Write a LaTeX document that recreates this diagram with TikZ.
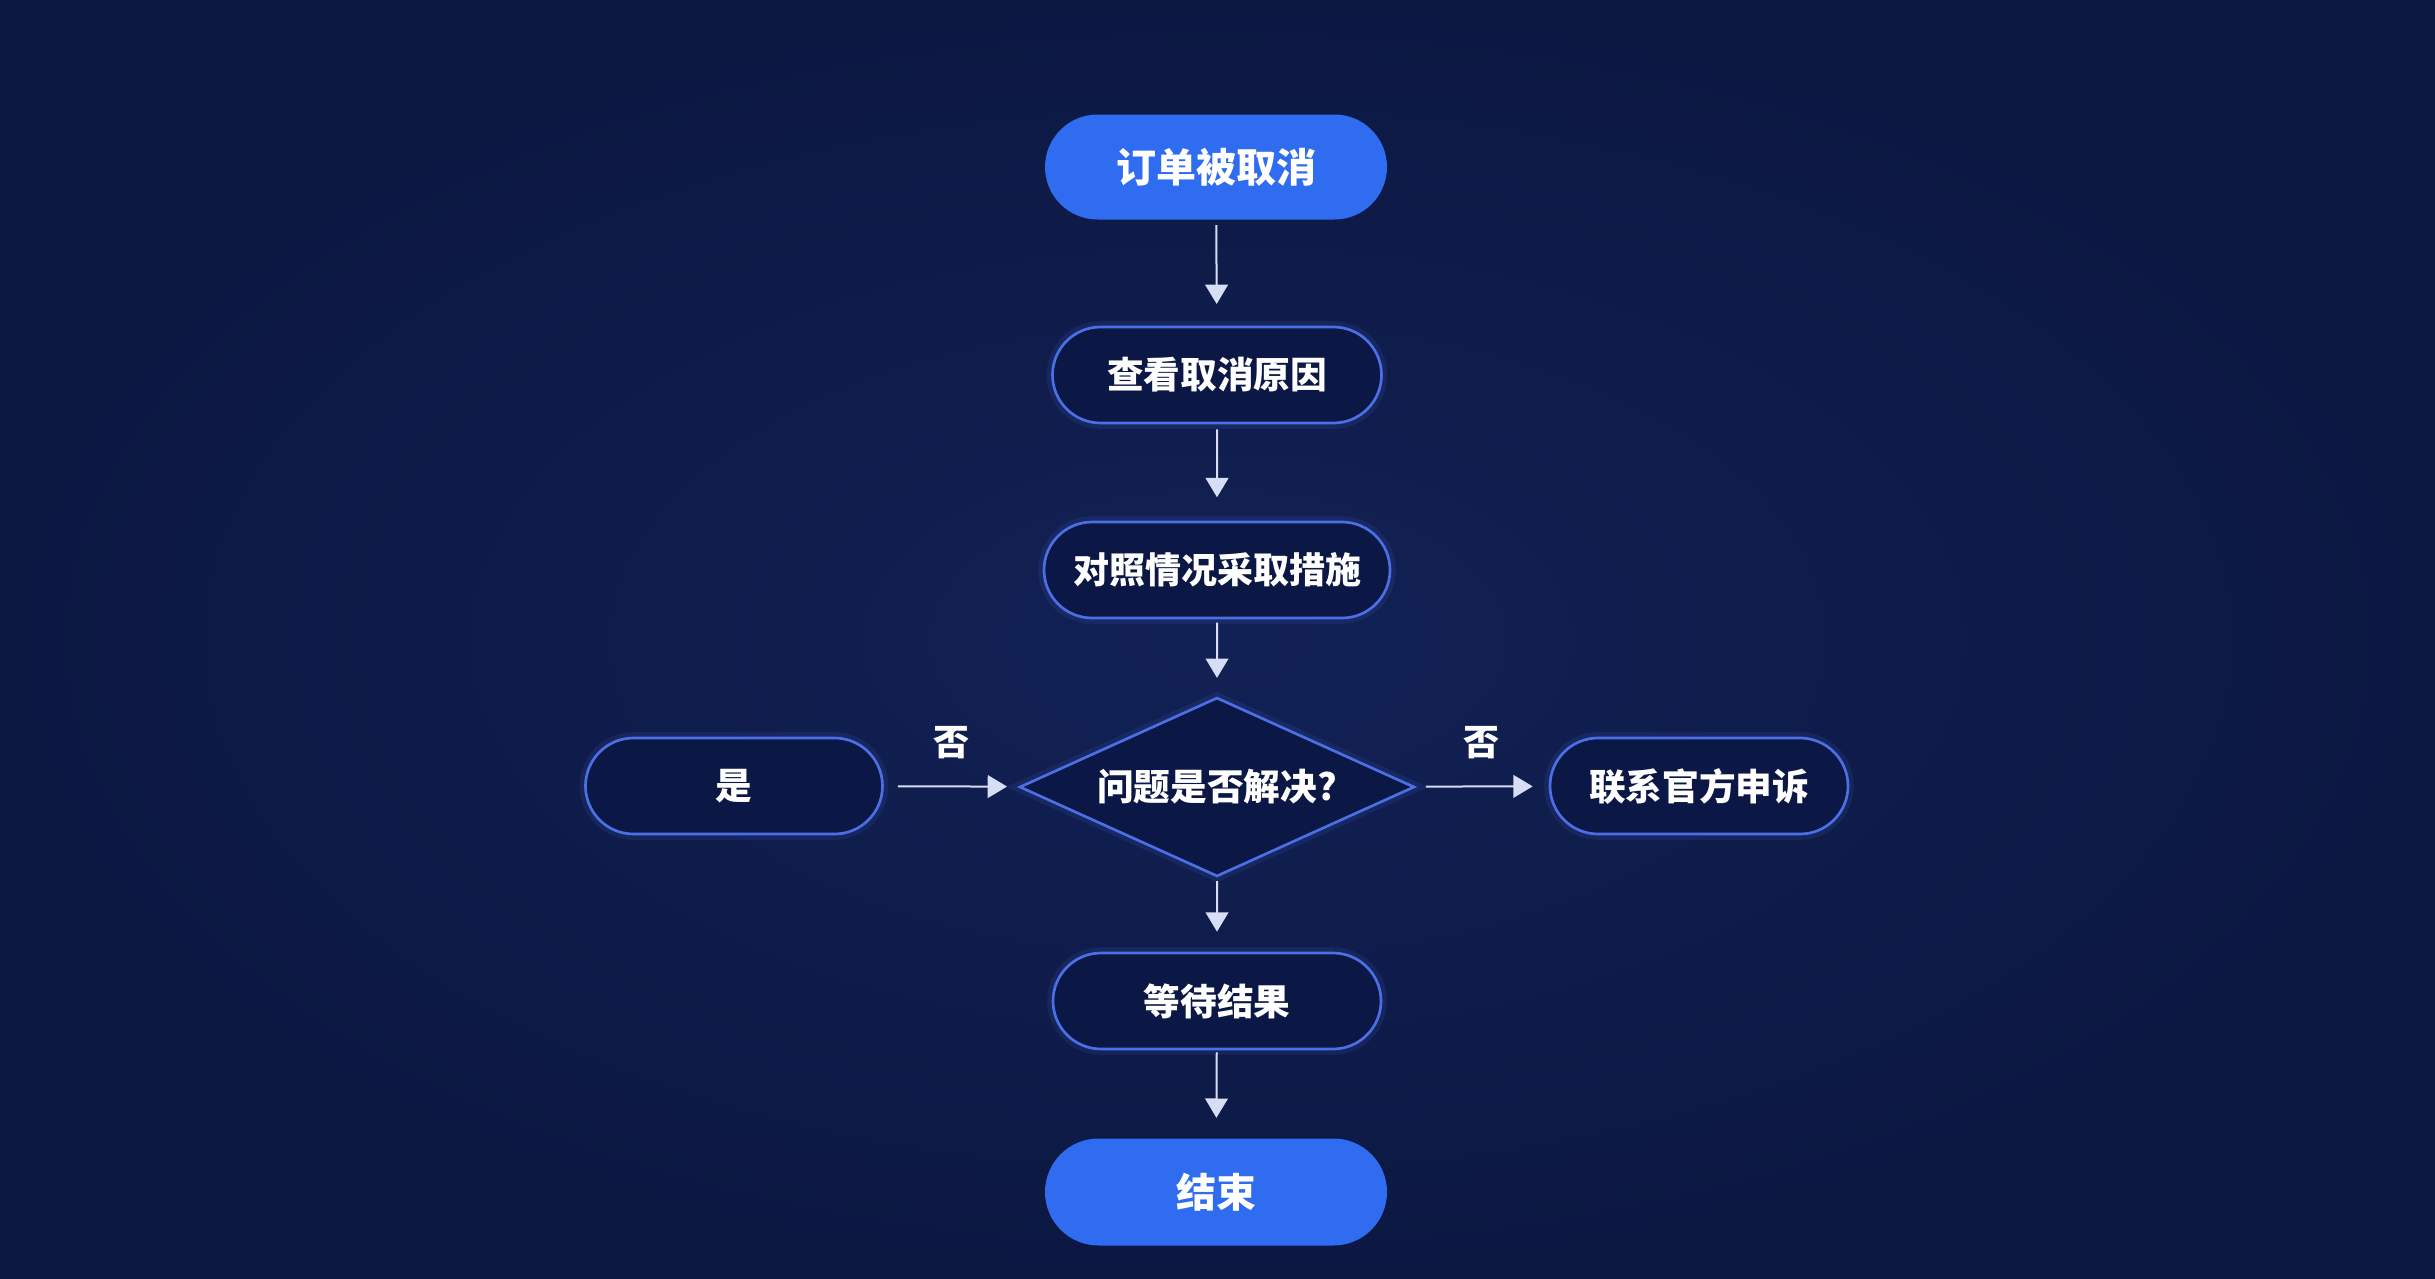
\documentclass[tikz,border=0pt]{standalone}
\usepackage{fontspec}
\setmainfont{Noto Sans CJK SC}
\usetikzlibrary{shapes.misc,shapes.geometric,arrows.meta}
\definecolor{bgin}{HTML}{122155}
\definecolor{bgout}{HTML}{0C1842}
\definecolor{bluefill}{HTML}{2F6CF0}
\definecolor{edgeblue}{HTML}{4D6FE6}
\definecolor{darkfill}{HTML}{0B1744}
\definecolor{arrowc}{HTML}{D6DDF5}
\tikzset{
  every node/.style={font=\bfseries\fontsize{11pt}{13pt}\selectfont, text=white},
  filledbox/.style={rounded rectangle, fill=bluefill, draw=none, minimum width=102.6pt, minimum height=31.5pt, inner sep=0pt,
     font=\bfseries\fontsize{12pt}{14pt}\selectfont},
  outlinebox/.style={rounded rectangle, fill=darkfill, draw=edgeblue, line width=0.8pt, minimum height=28.8pt, inner sep=0pt,
     preaction={draw=edgeblue, line width=3.5pt, draw opacity=0.12}},
  decision/.style={diamond, fill=darkfill, draw=edgeblue, line width=0.8pt, minimum width=118.5pt, minimum height=53.7pt, aspect=2.2, inner sep=0pt,
     preaction={draw=edgeblue, line width=3.5pt, draw opacity=0.12}},
  flow/.style={draw=arrowc, line width=0.6pt, -{Triangle[width=6.8pt,length=5.8pt]}},
  lbl/.style={font=\bfseries\fontsize{10.8pt}{13pt}\selectfont, text=white}
}
\begin{document}
\begin{tikzpicture}[x=0.3pt,y=-0.3pt]
\useasboundingbox (0,0) rectangle (2435,1279);
\shade[inner color=bgin, outer color=bgout] (0,0) rectangle (2435,1279);
\node[filledbox] (start) at (1216,167) {订单被取消};
\node[outlinebox, minimum width=98.7pt] (reason) at (1217,375) {查看取消原因};
\node[outlinebox, minimum width=103.8pt, font=\bfseries\fontsize{10.8pt}{13pt}\selectfont] (act) at (1217,570) {对照情况采取措施};
\node[decision] (dec) at (1217,787) {问题是否解决?};
\node[outlinebox, minimum width=89.1pt] (yes) at (734,786) {是};
\node[outlinebox, minimum width=89.4pt] (appeal) at (1699,786) {联系官方申诉};
\node[outlinebox, minimum width=98.4pt] (wait) at (1217,1001) {等待结果};
\node[filledbox, minimum height=32.1pt] (end) at (1216,1192) {结束};
\draw[flow, shorten <=1.5pt, shorten >=6.5pt] (start) -- (reason);
\draw[flow, shorten <=1.5pt, shorten >=7pt] (reason) -- (act);
\draw[flow, shorten <=1pt, shorten >=5.5pt] (act) -- (dec);
\draw[flow, shorten <=1pt, shorten >=6pt] (dec) -- (wait);
\draw[flow, shorten <=0.6pt, shorten >=6pt] (wait) -- (end);
\draw[flow, shorten <=4.2pt, shorten >=3.6pt] (yes) -- node[lbl, above=4.5pt] (no1) {否} (dec);
\draw[flow, shorten <=3.3pt, shorten >=4.8pt] (dec) -- node[lbl, above=4.5pt] (no2) {否} (appeal);
\end{tikzpicture}
\end{document}
